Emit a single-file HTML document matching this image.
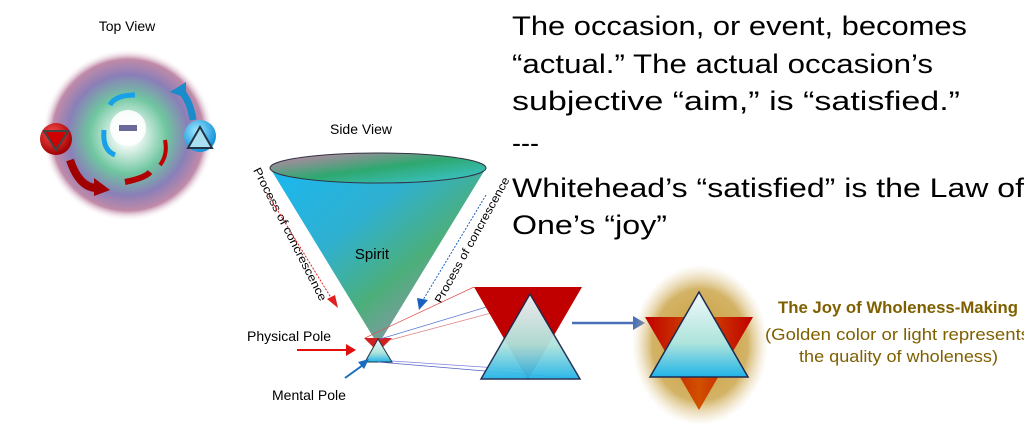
<!DOCTYPE html>
<html><head><meta charset="utf-8"><style>
html,body{margin:0;padding:0;background:#fff;width:1024px;height:432px;overflow:hidden}
svg{display:block}
text{font-family:"Liberation Sans",sans-serif}
</style></head><body>
<svg width="1024" height="432" viewBox="0 0 1024 432" xmlns="http://www.w3.org/2000/svg">
<defs>
<radialGradient id="sw" cx="50%" cy="50%" r="50%">
<stop offset="0" stop-color="#fff"/>
<stop offset="0.15" stop-color="#e8f6f0"/>
<stop offset="0.45" stop-color="#6fc6a0"/>
<stop offset="0.7" stop-color="#8a7fb8"/>
<stop offset="0.88" stop-color="#c08aa8"/>
<stop offset="1" stop-color="#fff" stop-opacity="0"/>
</radialGradient>
<linearGradient id="cone" x1="0" y1="0" x2="1" y2="1">
<stop offset="0" stop-color="#1ab8f0"/>
<stop offset="0.35" stop-color="#2fb0d0"/>
<stop offset="0.6" stop-color="#4caf7a"/>
<stop offset="1" stop-color="#c27fd6"/>
</linearGradient>
<linearGradient id="top" x1="0" y1="0" x2="1" y2="1">
<stop offset="0" stop-color="#d680b0"/>
<stop offset="0.5" stop-color="#2ea870"/>
<stop offset="1" stop-color="#3cc8d8"/>
</linearGradient>
<linearGradient id="cy" x1="0" y1="0" x2="0" y2="1">
<stop offset="0" stop-color="#f2f8fa"/>
<stop offset="0.6" stop-color="#aee4dc"/>
<stop offset="1" stop-color="#22b4e8"/>
</linearGradient>
<linearGradient id="rd" x1="0" y1="0" x2="1" y2="0">
<stop offset="0" stop-color="#c00000"/>
<stop offset="0.5" stop-color="#d05000"/>
<stop offset="1" stop-color="#c00000"/>
</linearGradient>
<radialGradient id="glow" cx="50%" cy="50%" r="50%">
<stop offset="0" stop-color="#c89a30"/>
<stop offset="0.7" stop-color="#c8a040" stop-opacity="0.8"/>
<stop offset="1" stop-color="#e0c890" stop-opacity="0"/>
</radialGradient>
<radialGradient id="rb" cx="40%" cy="35%" r="65%"><stop offset="0" stop-color="#ff5050"/><stop offset="1" stop-color="#a00000"/></radialGradient>
<radialGradient id="bb" cx="40%" cy="35%" r="65%"><stop offset="0" stop-color="#a0e8ff"/><stop offset="1" stop-color="#1090d8"/></radialGradient>
</defs>

<text x="127" y="31" font-size="14" text-anchor="middle">Top View</text>
<circle cx="128" cy="135" r="86" fill="url(#sw)"/>
<circle cx="128" cy="128" r="18" fill="#fff" opacity="0.9"/>
<rect x="119" y="125" width="18" height="6" fill="#6a6a9a"/>
<path d="M70,160 Q80,190 100,188" stroke="#a00000" stroke-width="8" fill="none"/>
<polygon points="94,178 110,190 94,196" fill="#a00000"/>
<path d="M125,182 Q145,178 150,172" stroke="#b00000" stroke-width="6" fill="none"/>
<path d="M165,140 Q168,155 160,165" stroke="#c00000" stroke-width="4" fill="none"/>
<path d="M193,120 Q190,100 180,90" stroke="#1a8ccc" stroke-width="7" fill="none"/>
<polygon points="170,92 186,82 186,98" fill="#1a8ccc"/>
<path d="M135,95 Q115,95 110,105" stroke="#18a0e8" stroke-width="5" fill="none"/>
<path d="M104,130 Q102,150 115,155" stroke="#18a0e8" stroke-width="5" fill="none"/>
<circle cx="56" cy="139" r="16" fill="url(#rb)"/>
<polygon points="44,131 68,131 56,150" fill="#d00000" stroke="#444" stroke-width="2"/>
<circle cx="200" cy="136" r="16" fill="url(#bb)"/>
<polygon points="188,148 212,148 200,127" fill="#a8e0f0" stroke="#234" stroke-width="2"/>

<text x="361" y="134" font-size="14" text-anchor="middle">Side View</text>
<polygon points="270,168 486,168 378,345" fill="url(#cone)"/>
<ellipse cx="378" cy="168" rx="108" ry="15" fill="url(#top)" stroke="#334" stroke-width="1"/>
<text x="372" y="259" font-size="15" text-anchor="middle">Spirit</text>
<text transform="translate(253,170) rotate(63)" font-size="11.5" textLength="148" lengthAdjust="spacingAndGlyphs">Process of concrescence</text>
<text transform="translate(441,304) rotate(-61)" font-size="11.5" textLength="142" lengthAdjust="spacingAndGlyphs">Process of concrescence</text>
<line x1="267" y1="193" x2="333" y2="301" stroke="#e02020" stroke-dasharray="2,1.5"/>
<polygon points="327,299 338,308 335,295" fill="#e02020"/>
<line x1="486" y1="195" x2="423" y2="300" stroke="#2060c0" stroke-dasharray="2,1.5"/>
<polygon points="417,298 419,310 428,300" fill="#1a60c0"/>
<polygon points="364,338 392,338 378,352" fill="#d02020"/>
<polygon points="378,339 392,362 365,362" fill="url(#cy)" stroke="#234" stroke-width="1"/>
<g stroke-width="0.7" fill="none">
<line x1="365" y1="338" x2="474" y2="287" stroke="#e05050"/>
<line x1="380" y1="339" x2="530" y2="294" stroke="#5070d0"/>
<line x1="390" y1="340" x2="540" y2="300" stroke="#e08080"/>
<line x1="378" y1="362" x2="580" y2="379" stroke="#5060c0"/>
<line x1="392" y1="361" x2="528" y2="370" stroke="#8080e0"/>
</g>
<text x="247" y="341" font-size="14">Physical Pole</text>
<line x1="297" y1="350" x2="348" y2="350" stroke="#e01010" stroke-width="2"/>
<polygon points="346,344 356,350 346,356" fill="#e01010"/>
<text x="272" y="400" font-size="14">Mental Pole</text>
<line x1="345" y1="378" x2="363" y2="365" stroke="#1a6cc0" stroke-width="2"/>
<polygon points="358,362 369,359 364,369" fill="#1a6cc0"/>

<polygon points="474,287 582,287 528,380" fill="#c00000"/>
<polygon points="530,294 580,379 481,379" fill="url(#cy)" stroke="#1e2a50" stroke-width="1.5" opacity="0.95"/>
<line x1="572" y1="323" x2="635" y2="323" stroke="#4a70b8" stroke-width="2.5"/>
<polygon points="633,316 645,323 633,330" fill="#4a70b8"/>

<ellipse cx="700" cy="345" rx="68" ry="80" fill="url(#glow)"/>
<polygon points="645,317 753,317 699,410" fill="url(#rd)"/>
<polygon points="699,292 748,377 650,377" fill="url(#cy)" stroke="#1e2a50" stroke-width="1.5"/>
<text x="778" y="313" font-size="17" font-weight="bold" fill="#7f6000" textLength="240" lengthAdjust="spacingAndGlyphs">The Joy of Wholeness-Making</text>
<text x="765" y="340" font-size="17" fill="#7f6000" textLength="265" lengthAdjust="spacingAndGlyphs">(Golden color or light represents</text>
<text x="799" y="362" font-size="17" fill="#7f6000" textLength="199" lengthAdjust="spacingAndGlyphs">the quality of wholeness)</text>

<g font-size="27" fill="#000">
<text x="512" y="35" textLength="455" lengthAdjust="spacingAndGlyphs">The occasion, or event, becomes</text>
<text x="512" y="73" textLength="421" lengthAdjust="spacingAndGlyphs">“actual.” The actual occasion’s</text>
<text x="512" y="110" textLength="448" lengthAdjust="spacingAndGlyphs">subjective “aim,” is “satisfied.”</text>
<text x="512" y="152">---</text>
<text x="512" y="197" textLength="512" lengthAdjust="spacingAndGlyphs">Whitehead’s “satisfied” is the Law of</text>
<text x="512" y="234" textLength="155" lengthAdjust="spacingAndGlyphs">One’s “joy”</text>
</g>
</svg>
</body></html>
